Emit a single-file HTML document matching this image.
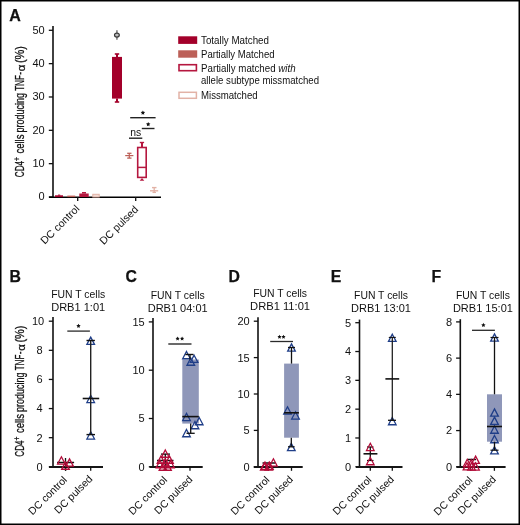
<!DOCTYPE html>
<html><head><meta charset="utf-8"><style>
html,body{margin:0;padding:0;background:#fff;}
#wrap{position:relative;width:520px;height:525px;overflow:hidden;background:#fff;}
svg{position:absolute;left:0;top:0;font-family:"Liberation Sans", sans-serif;will-change:transform;}
</style></head><body><div id="wrap">
<svg width="520" height="525" viewBox="0 0 520 525">
<rect x="0" y="0" width="520" height="525" fill="#fff"/>
<text x="9.3" y="20.5" font-size="16" text-anchor="start" font-weight="bold" fill="#111" stroke="#111" stroke-width="0.25">A</text>
<text x="0" y="0" font-size="12.4" fill="#111" stroke="#111" stroke-width="0.28" transform="translate(24.35,177.20) rotate(-90) scale(0.6597,1.04)">CD4</text>
<text x="0" y="0" font-size="9.3" fill="#111" stroke="#111" stroke-width="0.28" transform="translate(20.2,160.96) rotate(-90) scale(0.7111,1.0)">+</text>
<text x="0" y="0" font-size="12.4" fill="#111" stroke="#111" stroke-width="0.28" transform="translate(24.35,153.58) rotate(-90) scale(0.7689,1.04)">cells</text>
<text x="0" y="0" font-size="12.4" fill="#111" stroke="#111" stroke-width="0.28" transform="translate(24.35,132.38) rotate(-90) scale(0.7221,1.04)">producing</text>
<text x="0" y="0" font-size="12.4" fill="#111" stroke="#111" stroke-width="0.28" transform="translate(24.35,90.79) rotate(-90) scale(0.6481,1.04)">TNF</text>
<text x="0" y="0" font-size="12.4" fill="#111" stroke="#111" stroke-width="0.28" transform="translate(24.35,74.82) rotate(-90) scale(0.7000,1.04)">-</text>
<text x="0" y="0" font-size="12.4" fill="#111" stroke="#111" stroke-width="0.28" transform="translate(25.4,71.26) rotate(-90) scale(0.9206,0.85)">α</text>
<text x="0" y="0" font-size="12.4" fill="#111" stroke="#111" stroke-width="0.28" transform="translate(24.35,63.11) rotate(-90) scale(0.8870,1.04)">(%)</text>
<line x1="53" y1="26" x2="53" y2="197.7" stroke="#111" stroke-width="1.6"/>
<line x1="48.8" y1="30.299999999999983" x2="53" y2="30.299999999999983" stroke="#111" stroke-width="1.3"/>
<text x="44.7" y="33.69999999999998" font-size="11" text-anchor="end" font-weight="normal" fill="#111" >50</text>
<line x1="48.8" y1="63.639999999999986" x2="53" y2="63.639999999999986" stroke="#111" stroke-width="1.3"/>
<text x="44.7" y="67.03999999999999" font-size="11" text-anchor="end" font-weight="normal" fill="#111" >40</text>
<line x1="48.8" y1="96.98" x2="53" y2="96.98" stroke="#111" stroke-width="1.3"/>
<text x="44.7" y="100.38000000000001" font-size="11" text-anchor="end" font-weight="normal" fill="#111" >30</text>
<line x1="48.8" y1="130.32" x2="53" y2="130.32" stroke="#111" stroke-width="1.3"/>
<text x="44.7" y="133.72" font-size="11" text-anchor="end" font-weight="normal" fill="#111" >20</text>
<line x1="48.8" y1="163.66" x2="53" y2="163.66" stroke="#111" stroke-width="1.3"/>
<text x="44.7" y="167.06" font-size="11" text-anchor="end" font-weight="normal" fill="#111" >10</text>
<line x1="48.8" y1="197.0" x2="53" y2="197.0" stroke="#111" stroke-width="1.3"/>
<text x="44.7" y="200.4" font-size="11" text-anchor="end" font-weight="normal" fill="#111" >0</text>
<line x1="49" y1="197.25" x2="161" y2="197.25" stroke="#000" stroke-width="1.7"/>
<line x1="77.7" y1="197.0" x2="77.7" y2="201.0" stroke="#111" stroke-width="1.3"/>
<line x1="135.7" y1="197.0" x2="135.7" y2="201.0" stroke="#111" stroke-width="1.3"/>
<text x="0" y="0" font-size="10.6" text-anchor="end" fill="#111" transform="translate(80.2,209.4) rotate(-45)">DC control</text>
<text x="0" y="0" font-size="10.6" text-anchor="end" fill="#111" transform="translate(138.8,210.2) rotate(-45)">DC pulsed</text>
<rect x="55" y="195.3" width="8" height="1.8" fill="#a3002a" stroke="none" stroke-width="1"/>
<rect x="58" y="194.6" width="2.2" height="1" fill="#a3002a" stroke="none" stroke-width="1"/>
<rect x="67.3" y="195.6" width="7.9" height="1.5" fill="#bc6058" stroke="none" stroke-width="1"/>
<rect x="79.3" y="193.5" width="9.4" height="3.5" fill="#b5173f" stroke="none" stroke-width="1"/>
<rect x="82" y="192" width="4" height="1.6" fill="#b5173f" stroke="none" stroke-width="1"/>
<rect x="92.8" y="194.3" width="6.4" height="2.7" fill="#f3dcd5" stroke="#e2b2a6" stroke-width="1"/>
<rect x="112" y="56.9" width="10" height="41.7" fill="#a3002a" stroke="none" stroke-width="1"/>
<line x1="117" y1="54" x2="117" y2="57" stroke="#a3002a" stroke-width="2"/>
<line x1="114.8" y1="54" x2="119.2" y2="54" stroke="#a3002a" stroke-width="1.6"/>
<line x1="117" y1="98.6" x2="117" y2="102" stroke="#a3002a" stroke-width="2"/>
<line x1="114.8" y1="102" x2="119.2" y2="102" stroke="#a3002a" stroke-width="1.6"/>
<line x1="116.9" y1="30.2" x2="116.9" y2="39.8" stroke="#8a8a8a" stroke-width="1.8"/>
<ellipse cx="116.9" cy="35.1" rx="2.4" ry="2.05" fill="#bdbdbd" stroke="#3a3a3a" stroke-width="1.2"/>
<line x1="129.3" y1="153.3" x2="129.3" y2="158.1" stroke="#bc6058" stroke-width="1.2"/>
<line x1="125.2" y1="155.6" x2="133.4" y2="155.6" stroke="#bc6058" stroke-width="1.2"/>
<line x1="127.2" y1="153.3" x2="131.5" y2="153.3" stroke="#bc6058" stroke-width="1.3"/>
<line x1="127.2" y1="158.1" x2="131.5" y2="158.1" stroke="#bc6058" stroke-width="1.3"/>
<rect x="137.7" y="147.5" width="8.5" height="29.9" fill="none" stroke="#b5173f" stroke-width="1.6"/>
<line x1="137.7" y1="167.4" x2="146.2" y2="167.4" stroke="#b5173f" stroke-width="1.5"/>
<line x1="142" y1="143" x2="142" y2="147" stroke="#b5173f" stroke-width="2"/>
<line x1="139.8" y1="142.5" x2="144.1" y2="142.5" stroke="#b5173f" stroke-width="1.4"/>
<path d="M142 178 L144.3 180.8 L139.7 180.8 Z" fill="#b5173f"/>
<line x1="154.2" y1="187.6" x2="154.2" y2="192.4" stroke="#e2b2a6" stroke-width="1.3"/>
<line x1="150.0" y1="190.8" x2="158.2" y2="190.8" stroke="#e2b2a6" stroke-width="1.4"/>
<line x1="152.0" y1="187.6" x2="156.5" y2="187.6" stroke="#e2b2a6" stroke-width="1.4"/>
<line x1="152.5" y1="192.4" x2="156.0" y2="192.4" stroke="#e2b2a6" stroke-width="1.3"/>
<line x1="130.2" y1="117.7" x2="155.6" y2="117.7" stroke="#222" stroke-width="1.4"/>
<polygon points="142.90,110.50 143.57,111.87 145.08,112.09 143.99,113.15 144.25,114.66 142.90,113.95 141.55,114.66 141.81,113.15 140.72,112.09 142.23,111.87" fill="#111"/>
<line x1="141.8" y1="128.5" x2="154.5" y2="128.5" stroke="#222" stroke-width="1.4"/>
<polygon points="148.20,122.00 148.87,123.37 150.38,123.59 149.29,124.65 149.55,126.16 148.20,125.45 146.85,126.16 147.11,124.65 146.02,123.59 147.53,123.37" fill="#111"/>
<line x1="129" y1="138.2" x2="142.3" y2="138.2" stroke="#222" stroke-width="1.4"/>
<text x="135.8" y="136.3" font-size="10.4" text-anchor="middle" font-weight="normal" fill="#111" >ns</text>
<rect x="178.2" y="36.3" width="19" height="7.6" fill="#a3002a" stroke="none" stroke-width="1"/>
<rect x="178.2" y="50.3" width="19" height="7.4" fill="#bc6058" stroke="none" stroke-width="1"/>
<rect x="179.0" y="64.7" width="17.4" height="6" fill="none" stroke="#b5173f" stroke-width="1.6"/>
<rect x="179.0" y="92.3" width="17.4" height="6" fill="none" stroke="#e2b2a6" stroke-width="1.5"/>
<text x="201" y="43.6" font-size="10.3" text-anchor="start" font-weight="normal" fill="#111"  textLength="68.0" lengthAdjust="spacingAndGlyphs">Totally Matched</text>
<text x="201" y="57.7" font-size="10.3" text-anchor="start" font-weight="normal" fill="#111"  textLength="73.6" lengthAdjust="spacingAndGlyphs">Partially Matched</text>
<text x="201" y="71.8" font-size="10.3" text-anchor="start" font-weight="normal" fill="#111"  textLength="94.6" lengthAdjust="spacingAndGlyphs">Partially matched <tspan font-style="italic">with</tspan></text>
<text x="201" y="84.0" font-size="10.3" text-anchor="start" font-weight="normal" fill="#111"  textLength="118.0" lengthAdjust="spacingAndGlyphs">allele subtype missmatched</text>
<text x="201" y="98.7" font-size="10.3" text-anchor="start" font-weight="normal" fill="#111"  textLength="56.6" lengthAdjust="spacingAndGlyphs">Missmatched</text>
<text x="9.4" y="282.1" font-size="15.8" text-anchor="start" font-weight="bold" fill="#111" stroke="#111" stroke-width="0.25">B</text>
<text x="78.2" y="298.4" font-size="10.4" text-anchor="middle" font-weight="normal" fill="#111" >FUN T cells</text>
<text x="78.2" y="311.2" font-size="10.5" text-anchor="middle" font-weight="normal" fill="#111"  textLength="54.1" lengthAdjust="spacingAndGlyphs">DRB1 1:01</text>
<text x="0" y="0" font-size="12.4" fill="#111" stroke="#111" stroke-width="0.28" transform="translate(24.35,456.70) rotate(-90) scale(0.6597,1.04)">CD4</text>
<text x="0" y="0" font-size="9.3" fill="#111" stroke="#111" stroke-width="0.28" transform="translate(20.2,440.46) rotate(-90) scale(0.7111,1.0)">+</text>
<text x="0" y="0" font-size="12.4" fill="#111" stroke="#111" stroke-width="0.28" transform="translate(24.35,433.08) rotate(-90) scale(0.7689,1.04)">cells</text>
<text x="0" y="0" font-size="12.4" fill="#111" stroke="#111" stroke-width="0.28" transform="translate(24.35,411.88) rotate(-90) scale(0.7221,1.04)">producing</text>
<text x="0" y="0" font-size="12.4" fill="#111" stroke="#111" stroke-width="0.28" transform="translate(24.35,370.29) rotate(-90) scale(0.6481,1.04)">TNF</text>
<text x="0" y="0" font-size="12.4" fill="#111" stroke="#111" stroke-width="0.28" transform="translate(24.35,354.32) rotate(-90) scale(0.7000,1.04)">-</text>
<text x="0" y="0" font-size="12.4" fill="#111" stroke="#111" stroke-width="0.28" transform="translate(25.4,350.76) rotate(-90) scale(0.9206,0.85)">α</text>
<text x="0" y="0" font-size="12.4" fill="#111" stroke="#111" stroke-width="0.28" transform="translate(24.35,342.61) rotate(-90) scale(0.8870,1.04)">(%)</text>
<line x1="53" y1="317" x2="53" y2="467.5" stroke="#111" stroke-width="1.6"/>
<line x1="48.8" y1="321.2" x2="53" y2="321.2" stroke="#111" stroke-width="1.3"/>
<text x="44.2" y="325.09999999999997" font-size="11" text-anchor="end" font-weight="normal" fill="#111" >10</text>
<line x1="48.8" y1="350.32" x2="53" y2="350.32" stroke="#111" stroke-width="1.3"/>
<text x="42.7" y="354.21999999999997" font-size="11" text-anchor="end" font-weight="normal" fill="#111" >8</text>
<line x1="48.8" y1="379.44" x2="53" y2="379.44" stroke="#111" stroke-width="1.3"/>
<text x="42.7" y="383.34" font-size="11" text-anchor="end" font-weight="normal" fill="#111" >6</text>
<line x1="48.8" y1="408.56" x2="53" y2="408.56" stroke="#111" stroke-width="1.3"/>
<text x="42.7" y="412.46" font-size="11" text-anchor="end" font-weight="normal" fill="#111" >4</text>
<line x1="48.8" y1="437.68" x2="53" y2="437.68" stroke="#111" stroke-width="1.3"/>
<text x="42.7" y="441.58" font-size="11" text-anchor="end" font-weight="normal" fill="#111" >2</text>
<line x1="48.8" y1="466.8" x2="53" y2="466.8" stroke="#111" stroke-width="1.3"/>
<text x="42.7" y="470.7" font-size="11" text-anchor="end" font-weight="normal" fill="#111" >0</text>
<line x1="49" y1="467.0" x2="103" y2="467.0" stroke="#161616" stroke-width="1.8"/>
<line x1="65.6" y1="466.8" x2="65.6" y2="470.8" stroke="#111" stroke-width="1.3"/>
<line x1="90.7" y1="466.8" x2="90.7" y2="470.8" stroke="#111" stroke-width="1.3"/>
<text x="0" y="0" font-size="10.5" text-anchor="end" fill="#111" transform="translate(67.7,480.5) rotate(-45)">DC control</text>
<text x="0" y="0" font-size="10.5" text-anchor="end" fill="#111" transform="translate(93.2,479.5) rotate(-45)">DC pulsed</text>
<line x1="65.5" y1="458" x2="65.5" y2="470.6" stroke="#111" stroke-width="1.3"/>
<line x1="57.1" y1="462.5" x2="74.1" y2="462.5" stroke="#111" stroke-width="1.5"/>
<path d="M61.40 456.81 L65.22 464.05 L57.58 464.05 Z" fill="none" stroke="#b30c39" stroke-width="1.3" stroke-linejoin="miter"/>
<path d="M69.50 458.91 L73.32 466.15 L65.68 466.15 Z" fill="none" stroke="#b30c39" stroke-width="1.3" stroke-linejoin="miter"/>
<path d="M65.50 462.01 L69.32 469.25 L61.68 469.25 Z" fill="none" stroke="#b30c39" stroke-width="1.3" stroke-linejoin="miter"/>
<path d="M90.70 337.11 L94.52 344.35 L86.88 344.35 Z" fill="none" stroke="#1f3e88" stroke-width="1.3" stroke-linejoin="miter"/>
<path d="M90.70 395.31 L94.52 402.55 L86.88 402.55 Z" fill="none" stroke="#1f3e88" stroke-width="1.3" stroke-linejoin="miter"/>
<path d="M90.70 431.81 L94.52 439.05 L86.88 439.05 Z" fill="none" stroke="#1f3e88" stroke-width="1.3" stroke-linejoin="miter"/>
<line x1="90.7" y1="340.5" x2="90.7" y2="434.6" stroke="#222" stroke-width="1.4"/>
<line x1="86.5" y1="340.5" x2="94.9" y2="340.5" stroke="#111" stroke-width="1.4"/>
<line x1="86.5" y1="434.6" x2="95" y2="434.6" stroke="#111" stroke-width="1.4"/>
<line x1="82.7" y1="398.5" x2="99.2" y2="398.5" stroke="#111" stroke-width="1.6"/>
<line x1="67.3" y1="331.1" x2="89.9" y2="331.1" stroke="#2a2a2a" stroke-width="1.3"/>
<polygon points="78.50,323.70 79.17,325.07 80.68,325.29 79.59,326.35 79.85,327.86 78.50,327.15 77.15,327.86 77.41,326.35 76.32,325.29 77.83,325.07" fill="#111"/>
<text x="125.4" y="282.1" font-size="15.8" text-anchor="start" font-weight="bold" fill="#111" stroke="#111" stroke-width="0.25">C</text>
<text x="177.7" y="298.75" font-size="10.4" text-anchor="middle" font-weight="normal" fill="#111" >FUN T cells</text>
<text x="177.7" y="311.55" font-size="10.5" text-anchor="middle" font-weight="normal" fill="#111"  textLength="60.0" lengthAdjust="spacingAndGlyphs">DRB1 04:01</text>
<line x1="153" y1="318" x2="153" y2="467.5" stroke="#111" stroke-width="1.6"/>
<line x1="148.8" y1="321.9" x2="153" y2="321.9" stroke="#111" stroke-width="1.3"/>
<text x="144.7" y="325.79999999999995" font-size="11" text-anchor="end" font-weight="normal" fill="#111" >15</text>
<line x1="148.8" y1="370.2" x2="153" y2="370.2" stroke="#111" stroke-width="1.3"/>
<text x="144.7" y="374.09999999999997" font-size="11" text-anchor="end" font-weight="normal" fill="#111" >10</text>
<line x1="148.8" y1="418.5" x2="153" y2="418.5" stroke="#111" stroke-width="1.3"/>
<text x="144.7" y="422.4" font-size="11" text-anchor="end" font-weight="normal" fill="#111" >5</text>
<line x1="148.8" y1="466.8" x2="153" y2="466.8" stroke="#111" stroke-width="1.3"/>
<text x="144.7" y="470.7" font-size="11" text-anchor="end" font-weight="normal" fill="#111" >0</text>
<line x1="149.6" y1="467.0" x2="202.7" y2="467.0" stroke="#161616" stroke-width="1.8"/>
<line x1="165.3" y1="466.8" x2="165.3" y2="470.8" stroke="#111" stroke-width="1.3"/>
<line x1="190" y1="466.8" x2="190" y2="470.8" stroke="#111" stroke-width="1.3"/>
<text x="0" y="0" font-size="10.5" text-anchor="end" fill="#111" transform="translate(167.89999999999998,480.5) rotate(-45)">DC control</text>
<text x="0" y="0" font-size="10.5" text-anchor="end" fill="#111" transform="translate(193.2,480.0) rotate(-45)">DC pulsed</text>
<rect x="182.3" y="359.5" width="16.5" height="64.1" fill="#8f97b9" stroke="none" stroke-width="1"/>
<path d="M186.50 351.51 L190.32 358.75 L182.68 358.75 Z" fill="none" stroke="#1f3e88" stroke-width="1.3" stroke-linejoin="miter"/>
<path d="M194.10 355.21 L197.92 362.45 L190.28 362.45 Z" fill="none" stroke="#1f3e88" stroke-width="1.3" stroke-linejoin="miter"/>
<path d="M190.80 358.01 L194.62 365.25 L186.98 365.25 Z" fill="none" stroke="#1f3e88" stroke-width="1.3" stroke-linejoin="miter"/>
<path d="M186.50 413.31 L190.32 420.55 L182.68 420.55 Z" fill="none" stroke="#1f3e88" stroke-width="1.3" stroke-linejoin="miter"/>
<path d="M199.20 417.51 L203.02 424.75 L195.38 424.75 Z" fill="none" stroke="#1f3e88" stroke-width="1.3" stroke-linejoin="miter"/>
<path d="M195.00 421.51 L198.82 428.75 L191.18 428.75 Z" fill="none" stroke="#1f3e88" stroke-width="1.3" stroke-linejoin="miter"/>
<path d="M186.50 429.51 L190.32 436.75 L182.68 436.75 Z" fill="none" stroke="#1f3e88" stroke-width="1.3" stroke-linejoin="miter"/>
<line x1="190" y1="354.5" x2="190" y2="359.5" stroke="#111" stroke-width="1.3"/>
<line x1="185.4" y1="354.5" x2="193.5" y2="354.5" stroke="#111" stroke-width="1.4"/>
<line x1="182.3" y1="416.6" x2="198.8" y2="416.6" stroke="#111" stroke-width="1.6"/>
<line x1="190.7" y1="423.6" x2="190.7" y2="433.3" stroke="#111" stroke-width="1.3"/>
<line x1="186.5" y1="433.3" x2="194.7" y2="433.3" stroke="#111" stroke-width="1.3"/>
<line x1="165.3" y1="454.1" x2="165.3" y2="470" stroke="#111" stroke-width="1.3"/>
<line x1="161" y1="454.1" x2="170" y2="454.1" stroke="#111" stroke-width="1.3"/>
<line x1="157" y1="460.5" x2="173.5" y2="460.5" stroke="#111" stroke-width="1.5"/>
<path d="M165.30 450.01 L169.12 457.25 L161.48 457.25 Z" fill="none" stroke="#b30c39" stroke-width="1.3" stroke-linejoin="miter"/>
<path d="M161.00 456.01 L164.82 463.25 L157.18 463.25 Z" fill="none" stroke="#b30c39" stroke-width="1.3" stroke-linejoin="miter"/>
<path d="M169.50 456.01 L173.32 463.25 L165.68 463.25 Z" fill="none" stroke="#b30c39" stroke-width="1.3" stroke-linejoin="miter"/>
<path d="M160.00 460.51 L163.82 467.75 L156.18 467.75 Z" fill="none" stroke="#b30c39" stroke-width="1.3" stroke-linejoin="miter"/>
<path d="M170.50 460.51 L174.32 467.75 L166.68 467.75 Z" fill="none" stroke="#b30c39" stroke-width="1.3" stroke-linejoin="miter"/>
<path d="M165.30 459.01 L169.12 466.25 L161.48 466.25 Z" fill="none" stroke="#b30c39" stroke-width="1.3" stroke-linejoin="miter"/>
<path d="M163.00 463.01 L166.82 470.25 L159.18 470.25 Z" fill="none" stroke="#b30c39" stroke-width="1.3" stroke-linejoin="miter"/>
<path d="M167.50 463.01 L171.32 470.25 L163.68 470.25 Z" fill="none" stroke="#b30c39" stroke-width="1.3" stroke-linejoin="miter"/>
<line x1="168.3" y1="344" x2="191.5" y2="344" stroke="#444" stroke-width="1.6"/>
<polygon points="177.60,336.54 178.23,337.83 179.65,338.03 178.63,339.03 178.87,340.45 177.60,339.78 176.33,340.45 176.57,339.03 175.55,338.03 176.97,337.83" fill="#111"/>
<polygon points="182.10,336.54 182.73,337.83 184.15,338.03 183.13,339.03 183.37,340.45 182.10,339.78 180.83,340.45 181.07,339.03 180.05,338.03 181.47,337.83" fill="#111"/>
<text x="228.4" y="282.1" font-size="15.8" text-anchor="start" font-weight="bold" fill="#111" stroke="#111" stroke-width="0.25">D</text>
<text x="280.1" y="297.29999999999995" font-size="10.4" text-anchor="middle" font-weight="normal" fill="#111" >FUN T cells</text>
<text x="280.1" y="310.09999999999997" font-size="10.5" text-anchor="middle" font-weight="normal" fill="#111"  textLength="60.0" lengthAdjust="spacingAndGlyphs">DRB1 11:01</text>
<line x1="258" y1="317.3" x2="258" y2="467.5" stroke="#111" stroke-width="1.6"/>
<line x1="253.8" y1="321.2" x2="258" y2="321.2" stroke="#111" stroke-width="1.3"/>
<text x="249.7" y="325.09999999999997" font-size="11" text-anchor="end" font-weight="normal" fill="#111" >20</text>
<line x1="253.8" y1="357.6" x2="258" y2="357.6" stroke="#111" stroke-width="1.3"/>
<text x="249.7" y="361.5" font-size="11" text-anchor="end" font-weight="normal" fill="#111" >15</text>
<line x1="253.8" y1="394.0" x2="258" y2="394.0" stroke="#111" stroke-width="1.3"/>
<text x="249.7" y="397.9" font-size="11" text-anchor="end" font-weight="normal" fill="#111" >10</text>
<line x1="253.8" y1="430.4" x2="258" y2="430.4" stroke="#111" stroke-width="1.3"/>
<text x="249.7" y="434.29999999999995" font-size="11" text-anchor="end" font-weight="normal" fill="#111" >5</text>
<line x1="253.8" y1="466.8" x2="258" y2="466.8" stroke="#111" stroke-width="1.3"/>
<text x="249.7" y="470.7" font-size="11" text-anchor="end" font-weight="normal" fill="#111" >0</text>
<line x1="253.8" y1="467.0" x2="302.7" y2="467.0" stroke="#161616" stroke-width="1.8"/>
<line x1="268.5" y1="466.8" x2="268.5" y2="470.8" stroke="#111" stroke-width="1.3"/>
<line x1="291.5" y1="466.8" x2="291.5" y2="470.8" stroke="#111" stroke-width="1.3"/>
<text x="0" y="0" font-size="10.5" text-anchor="end" fill="#111" transform="translate(270.2,480.5) rotate(-45)">DC control</text>
<text x="0" y="0" font-size="10.5" text-anchor="end" fill="#111" transform="translate(293.7,480.0) rotate(-45)">DC pulsed</text>
<rect x="284.1" y="363.6" width="14.8" height="74.1" fill="#8f97b9" stroke="none" stroke-width="1"/>
<path d="M291.50 343.91 L295.32 351.15 L287.68 351.15 Z" fill="none" stroke="#1f3e88" stroke-width="1.3" stroke-linejoin="miter"/>
<path d="M287.50 406.81 L291.32 414.05 L283.68 414.05 Z" fill="none" stroke="#1f3e88" stroke-width="1.3" stroke-linejoin="miter"/>
<path d="M295.50 411.81 L299.32 419.05 L291.68 419.05 Z" fill="none" stroke="#1f3e88" stroke-width="1.3" stroke-linejoin="miter"/>
<path d="M291.30 443.41 L295.12 450.65 L287.48 450.65 Z" fill="none" stroke="#1f3e88" stroke-width="1.3" stroke-linejoin="miter"/>
<line x1="291.5" y1="347.5" x2="291.5" y2="363.6" stroke="#111" stroke-width="1.3"/>
<line x1="288" y1="347.5" x2="295" y2="347.5" stroke="#111" stroke-width="1.3"/>
<line x1="284.1" y1="412.8" x2="298.9" y2="412.8" stroke="#111" stroke-width="1.6"/>
<line x1="291.3" y1="437.7" x2="291.3" y2="446.8" stroke="#111" stroke-width="1.3"/>
<line x1="288" y1="446.8" x2="294.6" y2="446.8" stroke="#111" stroke-width="1.3"/>
<line x1="262.5" y1="463" x2="275.5" y2="463" stroke="#111" stroke-width="1.5"/>
<path d="M273.40 458.81 L277.22 466.05 L269.58 466.05 Z" fill="none" stroke="#b30c39" stroke-width="1.3" stroke-linejoin="miter"/>
<path d="M265.00 462.11 L268.82 469.35 L261.18 469.35 Z" fill="none" stroke="#b30c39" stroke-width="1.3" stroke-linejoin="miter"/>
<path d="M269.40 462.11 L273.22 469.35 L265.58 469.35 Z" fill="none" stroke="#b30c39" stroke-width="1.3" stroke-linejoin="miter"/>
<path d="M264.30 462.91 L268.12 470.15 L260.48 470.15 Z" fill="none" stroke="#b30c39" stroke-width="1.3" stroke-linejoin="miter"/>
<path d="M268.80 462.91 L272.62 470.15 L264.98 470.15 Z" fill="none" stroke="#b30c39" stroke-width="1.3" stroke-linejoin="miter"/>
<line x1="270.2" y1="341.5" x2="293" y2="341.5" stroke="#2a2a2a" stroke-width="1.3"/>
<polygon points="279.50,334.74 280.13,336.03 281.55,336.23 280.53,337.23 280.77,338.65 279.50,337.98 278.23,338.65 278.47,337.23 277.45,336.23 278.87,336.03" fill="#111"/>
<polygon points="283.50,334.74 284.13,336.03 285.55,336.23 284.53,337.23 284.77,338.65 283.50,337.98 282.23,338.65 282.47,337.23 281.45,336.23 282.87,336.03" fill="#111"/>
<text x="330.7" y="282.1" font-size="15.8" text-anchor="start" font-weight="bold" fill="#111" stroke="#111" stroke-width="0.25">E</text>
<text x="381" y="299.45" font-size="10.4" text-anchor="middle" font-weight="normal" fill="#111" >FUN T cells</text>
<text x="381" y="312.25" font-size="10.5" text-anchor="middle" font-weight="normal" fill="#111"  textLength="60.0" lengthAdjust="spacingAndGlyphs">DRB1 13:01</text>
<line x1="359.5" y1="319.6" x2="359.5" y2="467.5" stroke="#111" stroke-width="1.6"/>
<line x1="355.3" y1="322.7" x2="359.5" y2="322.7" stroke="#111" stroke-width="1.3"/>
<text x="351.2" y="326.59999999999997" font-size="11" text-anchor="end" font-weight="normal" fill="#111" >5</text>
<line x1="355.3" y1="351.52" x2="359.5" y2="351.52" stroke="#111" stroke-width="1.3"/>
<text x="351.2" y="355.41999999999996" font-size="11" text-anchor="end" font-weight="normal" fill="#111" >4</text>
<line x1="355.3" y1="380.34000000000003" x2="359.5" y2="380.34000000000003" stroke="#111" stroke-width="1.3"/>
<text x="351.2" y="384.24" font-size="11" text-anchor="end" font-weight="normal" fill="#111" >3</text>
<line x1="355.3" y1="409.16" x2="359.5" y2="409.16" stroke="#111" stroke-width="1.3"/>
<text x="351.2" y="413.06" font-size="11" text-anchor="end" font-weight="normal" fill="#111" >2</text>
<line x1="355.3" y1="437.98" x2="359.5" y2="437.98" stroke="#111" stroke-width="1.3"/>
<text x="351.2" y="441.88" font-size="11" text-anchor="end" font-weight="normal" fill="#111" >1</text>
<line x1="355.3" y1="466.8" x2="359.5" y2="466.8" stroke="#111" stroke-width="1.3"/>
<text x="351.2" y="470.7" font-size="11" text-anchor="end" font-weight="normal" fill="#111" >0</text>
<line x1="356" y1="467.0" x2="402.5" y2="467.0" stroke="#161616" stroke-width="1.8"/>
<line x1="370.3" y1="466.8" x2="370.3" y2="470.8" stroke="#111" stroke-width="1.3"/>
<line x1="392.3" y1="466.8" x2="392.3" y2="470.8" stroke="#111" stroke-width="1.3"/>
<text x="0" y="0" font-size="10.5" text-anchor="end" fill="#111" transform="translate(372.2,480.5) rotate(-45)">DC control</text>
<text x="0" y="0" font-size="10.5" text-anchor="end" fill="#111" transform="translate(394.7,480.0) rotate(-45)">DC pulsed</text>
<path d="M392.30 334.21 L396.12 341.45 L388.48 341.45 Z" fill="none" stroke="#1f3e88" stroke-width="1.3" stroke-linejoin="miter"/>
<path d="M392.30 417.51 L396.12 424.75 L388.48 424.75 Z" fill="none" stroke="#1f3e88" stroke-width="1.3" stroke-linejoin="miter"/>
<line x1="392.3" y1="337.6" x2="392.3" y2="420.5" stroke="#1a1a1a" stroke-width="1.25"/>
<line x1="388.8" y1="337.4" x2="395.8" y2="337.4" stroke="#111" stroke-width="1.1"/>
<line x1="388" y1="420.3" x2="396" y2="420.3" stroke="#111" stroke-width="1.3"/>
<line x1="385.4" y1="378.9" x2="399.2" y2="378.9" stroke="#111" stroke-width="1.6"/>
<line x1="370.3" y1="447" x2="370.3" y2="460.5" stroke="#111" stroke-width="1.3"/>
<line x1="367" y1="447" x2="373.5" y2="447" stroke="#111" stroke-width="1.2"/>
<line x1="367" y1="460.5" x2="373.5" y2="460.5" stroke="#111" stroke-width="1.2"/>
<line x1="363.5" y1="453.8" x2="377.4" y2="453.8" stroke="#111" stroke-width="1.6"/>
<path d="M370.30 443.31 L374.12 450.55 L366.48 450.55 Z" fill="none" stroke="#b30c39" stroke-width="1.3" stroke-linejoin="miter"/>
<path d="M370.30 457.51 L374.12 464.75 L366.48 464.75 Z" fill="none" stroke="#b30c39" stroke-width="1.3" stroke-linejoin="miter"/>
<text x="431.5" y="282.1" font-size="15.8" text-anchor="start" font-weight="bold" fill="#111" stroke="#111" stroke-width="0.25">F</text>
<text x="482.9" y="299.29999999999995" font-size="10.4" text-anchor="middle" font-weight="normal" fill="#111" >FUN T cells</text>
<text x="482.9" y="312.09999999999997" font-size="10.5" text-anchor="middle" font-weight="normal" fill="#111"  textLength="60.0" lengthAdjust="spacingAndGlyphs">DRB1 15:01</text>
<line x1="460.3" y1="319.2" x2="460.3" y2="467.5" stroke="#111" stroke-width="1.6"/>
<line x1="456.1" y1="321.9" x2="460.3" y2="321.9" stroke="#111" stroke-width="1.3"/>
<text x="452.0" y="325.79999999999995" font-size="11" text-anchor="end" font-weight="normal" fill="#111" >8</text>
<line x1="456.1" y1="358.125" x2="460.3" y2="358.125" stroke="#111" stroke-width="1.3"/>
<text x="452.0" y="362.025" font-size="11" text-anchor="end" font-weight="normal" fill="#111" >6</text>
<line x1="456.1" y1="394.35" x2="460.3" y2="394.35" stroke="#111" stroke-width="1.3"/>
<text x="452.0" y="398.25" font-size="11" text-anchor="end" font-weight="normal" fill="#111" >4</text>
<line x1="456.1" y1="430.575" x2="460.3" y2="430.575" stroke="#111" stroke-width="1.3"/>
<text x="452.0" y="434.47499999999997" font-size="11" text-anchor="end" font-weight="normal" fill="#111" >2</text>
<line x1="456.1" y1="466.8" x2="460.3" y2="466.8" stroke="#111" stroke-width="1.3"/>
<text x="452.0" y="470.7" font-size="11" text-anchor="end" font-weight="normal" fill="#111" >0</text>
<line x1="456.5" y1="467.0" x2="505.6" y2="467.0" stroke="#161616" stroke-width="1.8"/>
<line x1="470.5" y1="466.8" x2="470.5" y2="470.8" stroke="#111" stroke-width="1.3"/>
<line x1="494.4" y1="466.8" x2="494.4" y2="470.8" stroke="#111" stroke-width="1.3"/>
<text x="0" y="0" font-size="10.5" text-anchor="end" fill="#111" transform="translate(473.2,480.8) rotate(-45)">DC control</text>
<text x="0" y="0" font-size="10.5" text-anchor="end" fill="#111" transform="translate(496.7,480.0) rotate(-45)">DC pulsed</text>
<rect x="487" y="394.3" width="15" height="47.4" fill="#8f97b9" stroke="none" stroke-width="1"/>
<path d="M494.50 333.91 L498.32 341.15 L490.68 341.15 Z" fill="none" stroke="#1f3e88" stroke-width="1.3" stroke-linejoin="miter"/>
<path d="M494.50 408.91 L498.32 416.15 L490.68 416.15 Z" fill="none" stroke="#1f3e88" stroke-width="1.3" stroke-linejoin="miter"/>
<path d="M494.50 417.11 L498.32 424.35 L490.68 424.35 Z" fill="none" stroke="#1f3e88" stroke-width="1.3" stroke-linejoin="miter"/>
<path d="M494.50 426.01 L498.32 433.25 L490.68 433.25 Z" fill="none" stroke="#1f3e88" stroke-width="1.3" stroke-linejoin="miter"/>
<path d="M494.50 435.51 L498.32 442.75 L490.68 442.75 Z" fill="none" stroke="#1f3e88" stroke-width="1.3" stroke-linejoin="miter"/>
<path d="M494.50 446.71 L498.32 453.95 L490.68 453.95 Z" fill="none" stroke="#1f3e88" stroke-width="1.3" stroke-linejoin="miter"/>
<line x1="494.5" y1="337.5" x2="494.5" y2="394.3" stroke="#111" stroke-width="1.3"/>
<line x1="490.5" y1="337.5" x2="498.5" y2="337.5" stroke="#111" stroke-width="1.2"/>
<line x1="487" y1="426.5" x2="502" y2="426.5" stroke="#111" stroke-width="1.6"/>
<line x1="494.5" y1="441.7" x2="494.5" y2="450.2" stroke="#111" stroke-width="1.3"/>
<line x1="490.5" y1="450.2" x2="498.5" y2="450.2" stroke="#111" stroke-width="1.2"/>
<line x1="467.5" y1="459.5" x2="476" y2="459.5" stroke="#111" stroke-width="1.5"/>
<path d="M475.60 456.11 L479.42 463.35 L471.78 463.35 Z" fill="none" stroke="#b30c39" stroke-width="1.3" stroke-linejoin="miter"/>
<path d="M467.20 459.31 L471.02 466.55 L463.38 466.55 Z" fill="none" stroke="#b30c39" stroke-width="1.3" stroke-linejoin="miter"/>
<path d="M471.20 459.71 L475.02 466.95 L467.38 466.95 Z" fill="none" stroke="#b30c39" stroke-width="1.3" stroke-linejoin="miter"/>
<path d="M467.00 462.71 L470.82 469.95 L463.18 469.95 Z" fill="none" stroke="#b30c39" stroke-width="1.3" stroke-linejoin="miter"/>
<path d="M471.50 462.81 L475.32 470.05 L467.68 470.05 Z" fill="none" stroke="#b30c39" stroke-width="1.3" stroke-linejoin="miter"/>
<path d="M475.50 462.81 L479.32 470.05 L471.68 470.05 Z" fill="none" stroke="#b30c39" stroke-width="1.3" stroke-linejoin="miter"/>
<line x1="472.0" y1="330.3" x2="494.9" y2="330.3" stroke="#2a2a2a" stroke-width="1.3"/>
<polygon points="483.40,322.81 484.07,324.17 485.58,324.39 484.49,325.45 484.75,326.96 483.40,326.25 482.05,326.96 482.31,325.45 481.22,324.39 482.73,324.17" fill="#111"/>
<rect x="0.75" y="0.75" width="518.5" height="523.5" fill="none" stroke="#000" stroke-width="1.5"/>
</svg></div></body></html>
